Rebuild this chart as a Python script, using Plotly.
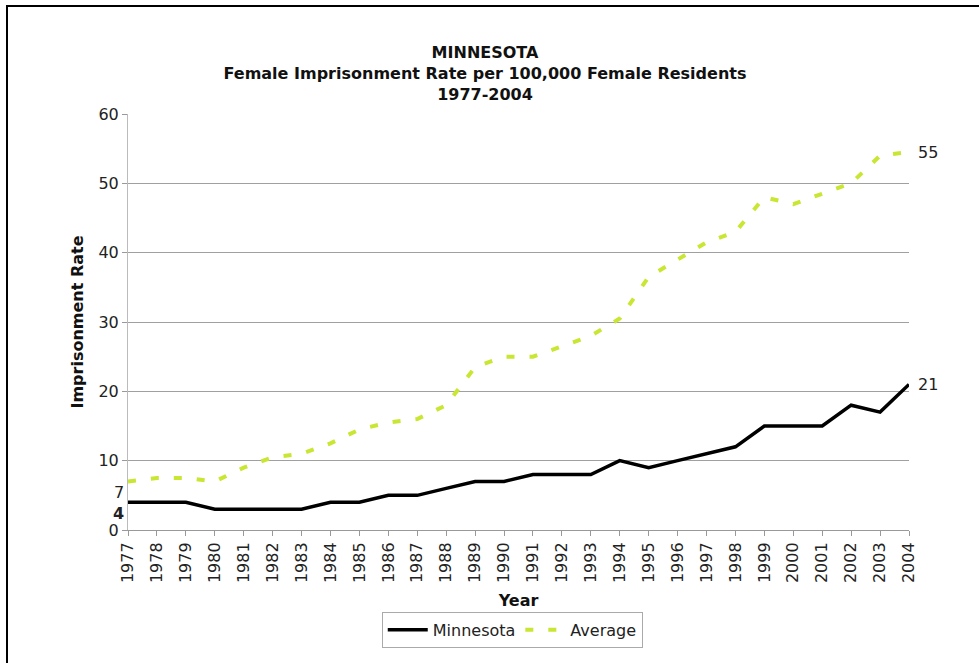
import plotly.graph_objects as go

years = list(range(1977, 2005))
minnesota = [4, 4, 4, 3, 3, 3, 3, 4, 4, 5, 5, 6, 7, 7, 8, 8, 8, 10, 9, 10, 11, 12, 15, 15, 15, 18, 17, 21]
average = [7, 7.5, 7.5, 7, 9, 10.5, 11, 12.5, 14.5, 15.5, 16, 18, 23.5, 25, 25, 26.5, 28, 30.5,
           36.5, 39, 41.5, 43, 48, 47, 48.5, 50, 54, 54.5]
y_ticks = [0, 10, 20, 30, 40, 50, 60]

FONT = "DejaVu Sans"
GREEN = "#C8E632"
FS = 16

fig = go.Figure()
fig.add_trace(go.Scatter(x=years, y=minnesota, name="Minnesota", mode="lines",
                         line=dict(color="black", width=3.5), cliponaxis=False))
fig.add_trace(go.Scatter(x=years, y=average, name="Average", mode="lines",
                         line=dict(color=GREEN, width=4, dash="8px,15px"), cliponaxis=False))

ann = []
ann.append(dict(x=years[0], y=average[0], text="7", showarrow=False, xanchor="right",
                xshift=-2, yshift=-11, font=dict(size=FS, color="#222")))
ann.append(dict(x=years[0], y=minnesota[0], text="<b>4</b>", showarrow=False, xanchor="right",
                xshift=-2, yshift=-11, font=dict(size=FS, color="#222")))
ann.append(dict(x=years[-1], y=average[-1], text="55", showarrow=False, xanchor="left",
                xshift=7, font=dict(size=FS, color="#222")))
ann.append(dict(x=years[-1], y=minnesota[-1], text="21", showarrow=False, xanchor="left",
                xshift=7, font=dict(size=FS, color="#222")))

fig.update_layout(
    width=979, height=663,
    margin=dict(l=128, r=70, t=114, b=133),
    paper_bgcolor="white", plot_bgcolor="white",
    font=dict(family=FONT, size=FS, color="#222"),
    title=dict(text="<b>MINNESOTA<br>Female Imprisonment Rate per 100,000 Female Residents<br>1977-2004</b>",
               x=485/979, xanchor="center", y=1 - 58/663, yanchor="top",
               font=dict(family=FONT, size=FS, color="#111")),
    xaxis=dict(range=[1977, 2004], tickmode="array", tickvals=years,
               ticktext=[str(y) for y in years], tickangle=-90,
               showgrid=False, showline=True, linecolor="#999", linewidth=1,
               ticks="outside", ticklen=5, tickcolor="#999",
               tickfont=dict(size=FS, color="#222"),
               title=dict(text="<b>Year</b>", standoff=12, font=dict(size=FS, color="#111")),
               zeroline=False),
    yaxis=dict(range=[0, 60], tickmode="array", tickvals=y_ticks,
               showgrid=True, gridcolor="#a0a0a0", gridwidth=1,
               showline=True, linecolor="#bbb", linewidth=1,
               ticks="outside", ticklen=5, tickcolor="#999",
               tickfont=dict(size=FS, color="#222"),
               title=dict(text="<b>Imprisonment Rate</b>", standoff=10, font=dict(size=FS, color="#111")),
               zeroline=False),
    legend=dict(orientation="h", x=0.492, xanchor="center", y=-0.197, yanchor="top",
                bordercolor="#aaa", borderwidth=1, font=dict(size=FS, color="#222"),
                itemwidth=40, tracegroupgap=0),
    annotations=ann,
    shapes=[dict(type="rect", xref="paper", yref="paper",
                 x0=(7 - 128) / 781, x1=(990 - 128) / 781,
                 y0=(530 - 680) / 416, y1=(530 - 6) / 416,
                 line=dict(color="black", width=2), fillcolor="rgba(0,0,0,0)")],
)

fig.write_html("out.html", config={"displayModeBar": False},
               post_script="document.body.style.margin='0px';")
